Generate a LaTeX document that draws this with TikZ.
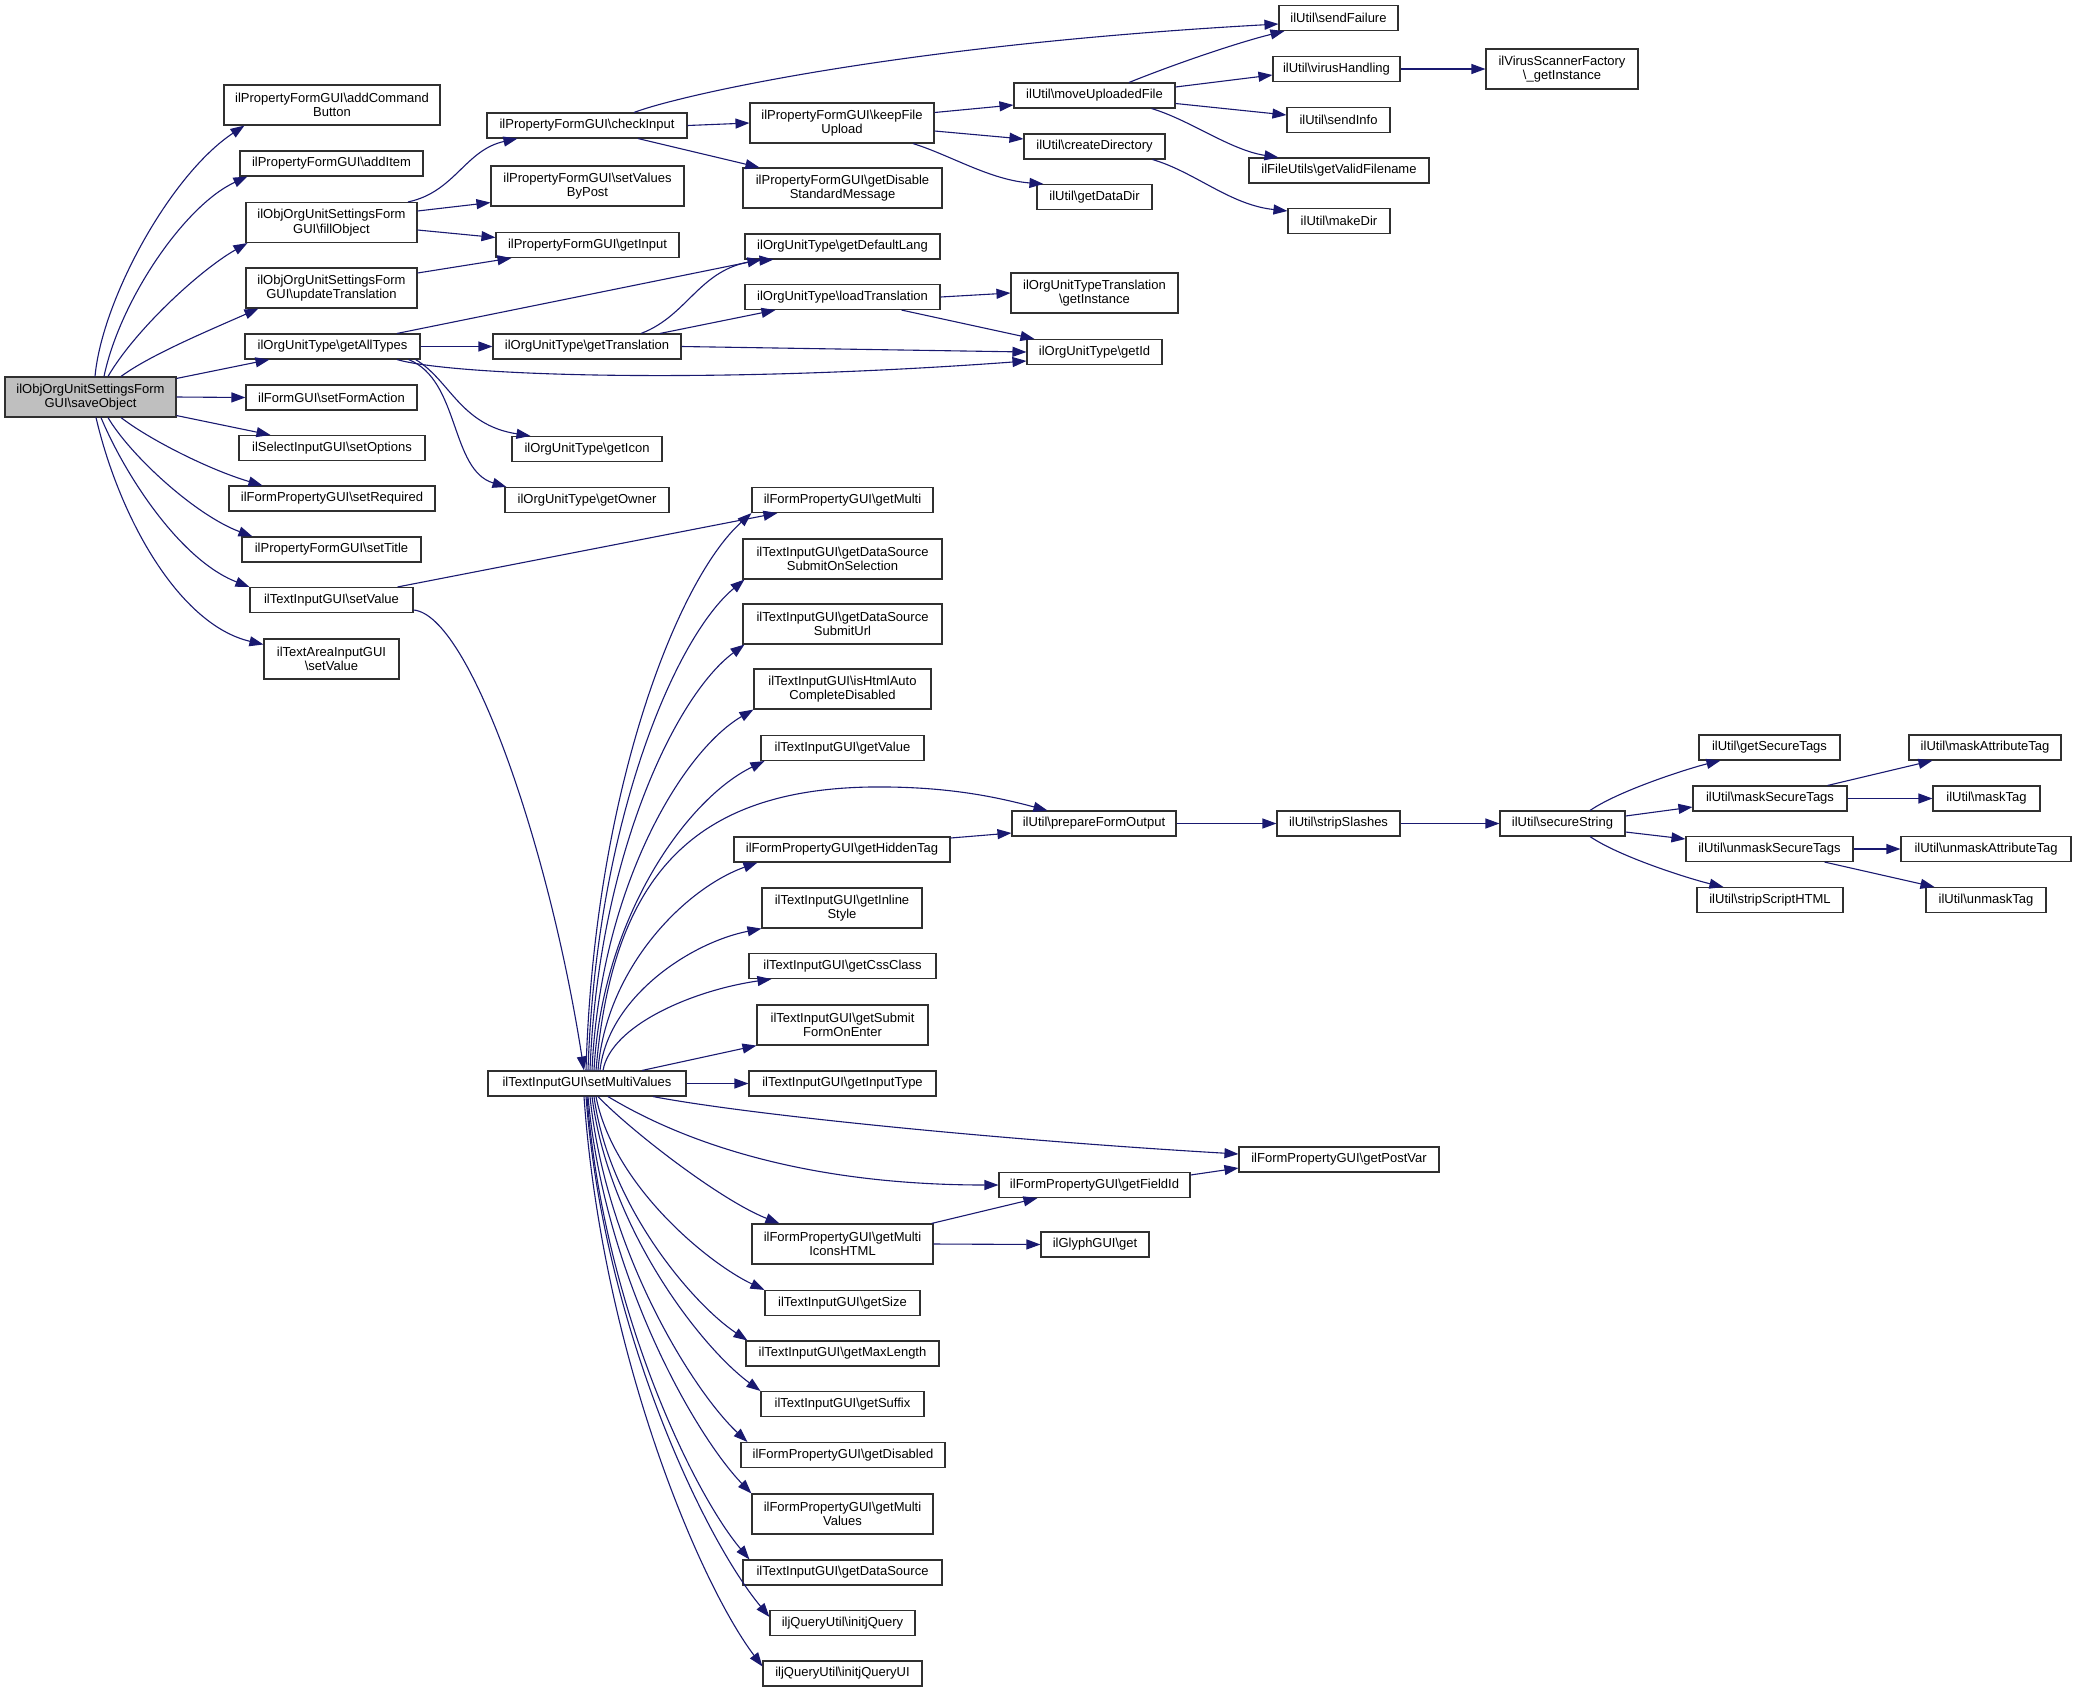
\documentclass[tikz,border=0pt]{standalone}
\usepackage{fontspec}
\setmainfont{Liberation Sans}
\usetikzlibrary{arrows.meta}
\newcommand{\bks}{\textbackslash}
\definecolor{edgeblue}{HTML}{191970}
\definecolor{boxgray}{HTML}{BFBFBF}
\definecolor{boxline}{HTML}{303030}
\tikzset{
  box/.style={draw=boxline, line width=1.1pt, fill=white, inner sep=0pt, align=center,
    font=\fontsize{13pt}{14.5pt}\selectfont},
  edge/.style={draw=edgeblue, line width=1.1pt, -{Triangle[length=14pt,width=10pt]}, fill=none},
}
\newcommand{\mkbox}[6][]{\node[box,#1,minimum width=#4pt,minimum height=#5pt] (#2) at (#3) {#6};}
\begin{document}
\begin{tikzpicture}[x=1pt,y=-1pt]
\path[use as bounding box, fill=white] (0,0) rectangle (2076,1692);

% column 1
\mkbox[fill=boxgray]{so}{90.5,397}{171}{40}{ilObjOrgUnitSettingsForm\\GUI\bks saveObject}
\mkbox{acb}{332,105}{216}{40}{ilPropertyFormGUI\bks addCommand\\Button}
\mkbox{ai}{331.5,163.5}{183}{25}{ilPropertyFormGUI\bks addItem}
\mkbox{fo}{331.5,222.5}{171}{40}{ilObjOrgUnitSettingsForm\\GUI\bks fillObject}
\mkbox{ut}{331.5,288}{171}{40}{ilObjOrgUnitSettingsForm\\GUI\bks updateTranslation}
\mkbox{gat}{332.5,346.5}{175}{25}{ilOrgUnitType\bks getAllTypes}
\mkbox{sfa}{331.5,397.5}{171}{25}{ilFormGUI\bks setFormAction}
\mkbox{sopt}{332,448}{186}{25}{ilSelectInputGUI\bks setOptions}
\mkbox{sreq}{332,498.5}{206}{25}{ilFormPropertyGUI\bks setRequired}
\mkbox{stit}{331.5,549.5}{179}{25}{ilPropertyFormGUI\bks setTitle}
\mkbox{svt}{331.5,600}{163}{25}{ilTextInputGUI\bks setValue}
\mkbox{sta}{331.5,659}{135}{40}{ilTextAreaInputGUI\\\bks setValue}

% column 2
\mkbox{ci}{587,125.5}{200}{25}{ilPropertyFormGUI\bks checkInput}
\mkbox{svbp}{587.5,186}{193}{40}{ilPropertyFormGUI\bks setValues\\ByPost}
\mkbox{gi}{587.5,245}{183}{25}{ilPropertyFormGUI\bks getInput}
\mkbox{gt}{587,346.5}{188}{25}{ilOrgUnitType\bks getTranslation}
\mkbox{gicon}{587,449}{150}{25}{ilOrgUnitType\bks getIcon}
\mkbox{gown}{587,500}{164}{25}{ilOrgUnitType\bks getOwner}
\mkbox{smv}{587,1083.5}{198}{25}{ilTextInputGUI\bks setMultiValues}

% column 3
\mkbox{kfu}{842,123}{184}{40}{ilPropertyFormGUI\bks keepFile\\Upload}
\mkbox{gdsm}{842.5,188}{199}{40}{ilPropertyFormGUI\bks getDisable\\StandardMessage}
\mkbox{gdl}{842.5,246.5}{195}{25}{ilOrgUnitType\bks getDefaultLang}
\mkbox{lt}{842.5,297}{195}{25}{ilOrgUnitType\bks loadTranslation}
\mkbox{gm}{842.5,500}{181}{25}{ilFormPropertyGUI\bks getMulti}
\mkbox{gdsos}{842.5,559}{199}{40}{ilTextInputGUI\bks getDataSource\\SubmitOnSelection}
\mkbox{gdsu}{842.5,624}{199}{40}{ilTextInputGUI\bks getDataSource\\SubmitUrl}
\mkbox{ihac}{842.5,689}{177}{40}{ilTextInputGUI\bks isHtmlAuto\\CompleteDisabled}
\mkbox{gv}{842.5,748}{163}{25}{ilTextInputGUI\bks getValue}
\mkbox{ght}{842,849.5}{216}{25}{ilFormPropertyGUI\bks getHiddenTag}
\mkbox{gis}{842,908}{160}{40}{ilTextInputGUI\bks getInline\\Style}
\mkbox{gcc}{842.5,966}{187}{25}{ilTextInputGUI\bks getCssClass}
\mkbox{gsfe}{842.5,1025}{171}{40}{ilTextInputGUI\bks getSubmit\\FormOnEnter}
\mkbox{git}{842.5,1083.5}{187}{25}{ilTextInputGUI\bks getInputType}
\mkbox{gmi}{842.5,1244}{181}{40}{ilFormPropertyGUI\bks getMulti\\IconsHTML}
\mkbox{gsz}{842.5,1303}{155}{25}{ilTextInputGUI\bks getSize}
\mkbox{gml}{842.5,1353.5}{193}{25}{ilTextInputGUI\bks getMaxLength}
\mkbox{gsuf}{842.5,1404}{163}{25}{ilTextInputGUI\bks getSuffix}
\mkbox{gdis}{843,1455}{204}{25}{ilFormPropertyGUI\bks getDisabled}
\mkbox{gmv}{842.5,1514}{181}{40}{ilFormPropertyGUI\bks getMulti\\Values}
\mkbox{gds}{842.5,1572.5}{199}{25}{ilTextInputGUI\bks getDataSource}
\mkbox{ijq}{842.5,1623}{145}{25}{iljQueryUtil\bks initjQuery}
\mkbox{ijqui}{842.5,1673.5}{159}{25}{iljQueryUtil\bks initjQueryUI}

% column 4
\mkbox{muf}{1094.5,95.5}{161}{25}{ilUtil\bks moveUploadedFile}
\mkbox{cd}{1094.5,146.5}{141}{25}{ilUtil\bks createDirectory}
\mkbox{gdd}{1094.5,197}{115}{25}{ilUtil\bks getDataDir}
\mkbox{outt}{1094.5,293}{167}{40}{ilOrgUnitTypeTranslation\\\bks getInstance}
\mkbox{gid}{1094.5,352}{135}{25}{ilOrgUnitType\bks getId}
\mkbox{pfo}{1094,823.5}{164}{25}{ilUtil\bks prepareFormOutput}
\mkbox{gfi}{1094.5,1185}{191}{25}{ilFormPropertyGUI\bks getFieldId}
\mkbox{ggg}{1095,1244.5}{108}{25}{ilGlyphGUI\bks get}

% column 5
\mkbox{sf}{1338.5,18}{119}{25}{ilUtil\bks sendFailure}
\mkbox{vh}{1336.5,69}{127}{25}{ilUtil\bks virusHandling}
\mkbox{si}{1338.5,120}{103}{25}{ilUtil\bks sendInfo}
\mkbox{gvf}{1339,170.5}{180}{25}{ilFileUtils\bks getValidFilename}
\mkbox{md}{1339,221}{102}{25}{ilUtil\bks makeDir}
\mkbox{sls}{1338.5,823.5}{123}{25}{ilUtil\bks stripSlashes}
\mkbox{gpv}{1339,1159.5}{200}{25}{ilFormPropertyGUI\bks getPostVar}

% column 6
\mkbox{vsf}{1562,69}{152}{40}{ilVirusScannerFactory\\\bks\_getInstance}
\mkbox{sec}{1562.5,823.5}{125}{25}{ilUtil\bks secureString}

% column 7
\mkbox{gst}{1769.5,747.5}{141}{25}{ilUtil\bks getSecureTags}
\mkbox{mst}{1770,798.5}{154}{25}{ilUtil\bks maskSecureTags}
\mkbox{ust}{1769.5,849}{167}{25}{ilUtil\bks unmaskSecureTags}
\mkbox{ssh}{1770,900}{146}{25}{ilUtil\bks stripScriptHTML}

% column 8
\mkbox{mat}{1985,747.5}{152}{25}{ilUtil\bks maskAttributeTag}
\mkbox{mt}{1986.5,798.5}{107}{25}{ilUtil\bks maskTag}
\mkbox{uat}{1986,849}{170}{25}{ilUtil\bks unmaskAttributeTag}
\mkbox{umt}{1986,900}{120}{25}{ilUtil\bks unmaskTag}

% edges from saveObject
\draw[edge] ([xshift=4.5pt]so.north) .. controls (102,300) and (170,175) .. ([xshift=21pt]acb.south west);
\draw[edge] ([xshift=13.5pt]so.north) .. controls (120,300) and (185,205) .. ([xshift=8pt]ai.south west);
\draw[edge] ([xshift=17.5pt]so.north) .. controls (135,330) and (200,270) .. ([xshift=2pt]fo.south west);
\draw[edge] ([xshift=30.5pt]so.north) .. controls (150,355) and (210,330) .. ([xshift=13pt]ut.south west);
\draw[edge] ([yshift=-2pt]so.north east) -- ([xshift=25pt]gat.south west);
\draw[edge] (so.east) -- (sfa.west);
\draw[edge] ([yshift=2pt]so.south east) -- ([xshift=32pt]sopt.north west);
\draw[edge] ([xshift=30.5pt]so.south) .. controls (150,440) and (210,470) .. ([xshift=34pt]sreq.north west);
\draw[edge] ([xshift=17.5pt]so.south) .. controls (130,455) and (195,515) .. ([xshift=11pt]stit.north west);
\draw[edge] ([xshift=10.5pt]so.south) .. controls (125,475) and (180,560) .. (svt.north west);
\draw[edge] ([xshift=5.5pt]so.south) .. controls (120,520) and (180,625) .. ([yshift=-6pt]sta.north west);

% fillObject / updateTranslation
\draw[edge] ([xshift=76.5pt]fo.north) .. controls (455,192) and (465,150) .. ([xshift=31pt]ci.south west);
\draw[edge] ([yshift=11.5pt]fo.east) -- ([yshift=4pt]svbp.south west);
\draw[edge] ([yshift=-7.5pt]fo.east) -- ([yshift=7.5pt]gi.west);
\draw[edge] ([yshift=15pt]ut.east) -- ([xshift=16pt]gi.south west);

% checkInput
\draw[edge] ([xshift=47pt]ci.north) .. controls (680,95) and (900,45) .. ([yshift=-6pt]sf.west);
\draw[edge] (ci.east) -- (kfu.west);
\draw[edge] ([xshift=51pt]ci.south) -- ([xshift=17pt]gdsm.north west);

% keepFileUpload
\draw[edge] ([yshift=10.5pt]kfu.east) -- ([yshift=-9.5pt]muf.west);
\draw[edge] ([yshift=-8pt]kfu.east) -- ([yshift=7.5pt]cd.west);
\draw[edge] ([xshift=71pt]kfu.south) .. controls (950,155) and (990,180) .. ([xshift=7pt]gdd.north west);

% moveUploadedFile
\draw[edge] ([xshift=34.5pt]muf.north) .. controls (1180,62) and (1240,42) .. ([xshift=6pt]sf.south west);
\draw[edge] ([yshift=8.5pt]muf.east) -- ([yshift=-6pt]vh.west);
\draw[edge] ([yshift=-8pt]muf.east) -- ([yshift=5pt]si.west);
\draw[edge] ([xshift=-24pt]muf.south east) .. controls (1190,120) and (1230,150) .. ([xshift=30pt]gvf.north west);
\draw[edge] (vh.east) -- (vsf.west);
\draw[edge] ([xshift=-13pt]cd.south east) .. controls (1195,172) and (1230,205) .. ([yshift=-3pt]md.north west);

% getAllTypes
\draw[edge] ([xshift=64.5pt]gat.north) -- ([xshift=17pt]gdl.south west);
\draw[edge] (gat.east) -- (gt.west);
\draw[edge] ([xshift=64.5pt]gat.south) .. controls (450,375) and (700,385) .. ([yshift=-9pt]gid.west);
\draw[edge] ([xshift=-5pt]gat.south east) .. controls (450,380) and (460,425) .. ([xshift=19pt]gicon.north west);
\draw[edge] ([xshift=-12pt]gat.south east) .. controls (460,380) and (450,470) .. ([xshift=2pt]gown.north west);

% getTranslation / loadTranslation
\draw[edge] ([xshift=54pt]gt.north) .. controls (690,315) and (700,265) .. ([xshift=29pt]gdl.south west);
\draw[edge] ([xshift=73pt]gt.north) -- ([xshift=31pt]lt.south west);
\draw[edge] (gt.east) -- (gid.west);
\draw[edge] (lt.east) -- (outt.west);
\draw[edge] ([xshift=-39pt]lt.south east) -- ([xshift=8pt]gid.north west);

% setValue (text input)
\draw[edge] ([xshift=-16pt]svt.north east) -- ([xshift=26pt]gm.south west);
\draw[edge] ([yshift=-10pt]svt.east) .. controls (470,615) and (550,850) .. ([xshift=-3pt]smv.north);

% setMultiValues upper fan
\draw[edge] ([xshift=-1pt]smv.north) .. controls (594,792) and (677,580) .. (gm.south west);
\draw[edge] ([xshift=1pt]smv.north) .. controls (596,825) and (674,638) .. ([xshift=2pt]gdsos.south west);
\draw[edge] ([xshift=3pt]smv.north) .. controls (598,858) and (675,696) .. ([xshift=2pt]gdsu.south west);
\draw[edge] ([xshift=5pt]smv.north) .. controls (600,890) and (681,752) .. (ihac.south west);
\draw[edge] ([xshift=7pt]smv.north) .. controls (602,916) and (688,798) .. ([xshift=4pt]gv.south west);
\draw[edge] ([xshift=9pt]smv.north) .. controls (612,880) and (690,790) .. (870,787) .. controls (950,786) and (1000,798) .. ([xshift=36pt]pfo.north west);
\draw[edge] ([xshift=11pt]smv.north) .. controls (606,967) and (686,888) .. ([xshift=24pt]ght.south west);
\draw[edge] ([xshift=13pt]smv.north) .. controls (608,998) and (689,943) .. (gis.south west);
\draw[edge] ([xshift=16pt]smv.north) .. controls (611,1025) and (694,990) .. ([xshift=23pt]gcc.south west);
\draw[edge] ([xshift=55pt]smv.north) -- (gsfe.south west);
\draw[edge] (smv.east) -- (git.west);

% setMultiValues lower fan
\draw[edge] ([xshift=66pt]smv.south) .. controls (750,1115) and (1000,1140) .. ([yshift=5.5pt]gpv.west);
\draw[edge] ([xshift=21pt]smv.south) .. controls (680,1140) and (800,1185) .. (gfi.west);
\draw[edge] ([xshift=11pt]smv.south) .. controls (630,1130) and (720,1200) .. ([xshift=28pt]gmi.north west);
\draw[edge] ([xshift=9pt]smv.south) .. controls (613,1184) and (706,1262) .. (gsz.north west);
\draw[edge] ([xshift=7pt]smv.south) .. controls (609,1207) and (694,1305) .. ([xshift=2pt]gml.north west);
\draw[edge] ([xshift=5pt]smv.south) .. controls (609,1230) and (702,1348) .. (gsuf.north west);
\draw[edge] ([xshift=3pt]smv.south) .. controls (606,1252) and (693,1391) .. ([xshift=7pt]gdis.north west);
\draw[edge] ([xshift=1pt]smv.south) .. controls (604,1276) and (695,1435) .. (gmv.north west);
\draw[edge] (smv.south) .. controls (603,1305) and (692,1491) .. ([xshift=7pt]gds.north west);
\draw[edge] ([xshift=-1pt]smv.south) .. controls (604,1331) and (706,1541) .. ([yshift=-7pt]ijq.north west);
\draw[edge] ([xshift=-3pt]smv.south) .. controls (602,1354) and (700,1584) .. ([yshift=-6pt]ijqui.north west);

% getFieldId / getMultiIconsHTML
\draw[edge] ([yshift=10pt]gfi.east) -- ([yshift=-8.5pt]gpv.west);
\draw[edge] ([xshift=-2pt]gmi.north east) -- ([xshift=39pt]gfi.south west);
\draw[edge] (gmi.east) -- (ggg.west);

% getHiddenTag / prepareFormOutput chain
\draw[edge] ([yshift=11.5pt]ght.east) -- ([yshift=-9.5pt]pfo.west);
\draw[edge] (pfo.east) -- (sls.west);
\draw[edge] (sls.east) -- (sec.west);

% secureString
\draw[edge] ([xshift=27.5pt]sec.north) .. controls (1620,790) and (1690,768) .. ([xshift=22pt]gst.south west);
\draw[edge] ([yshift=7.5pt]sec.east) -- ([yshift=-8.5pt]mst.west);
\draw[edge] ([yshift=-8.5pt]sec.east) -- ([yshift=10pt]ust.west);
\draw[edge] ([xshift=27.5pt]sec.south) .. controls (1620,857) and (1690,879) .. ([xshift=27pt]ssh.north west);
\draw[edge] ([xshift=-20pt]mst.north east) -- ([xshift=24pt]mat.south west);
\draw[edge] (mst.east) -- (mt.west);
\draw[edge] (ust.east) -- (uat.west);
\draw[edge] ([xshift=-29pt]ust.south east) -- ([xshift=9pt]umt.north west);
\end{tikzpicture}
\end{document}
